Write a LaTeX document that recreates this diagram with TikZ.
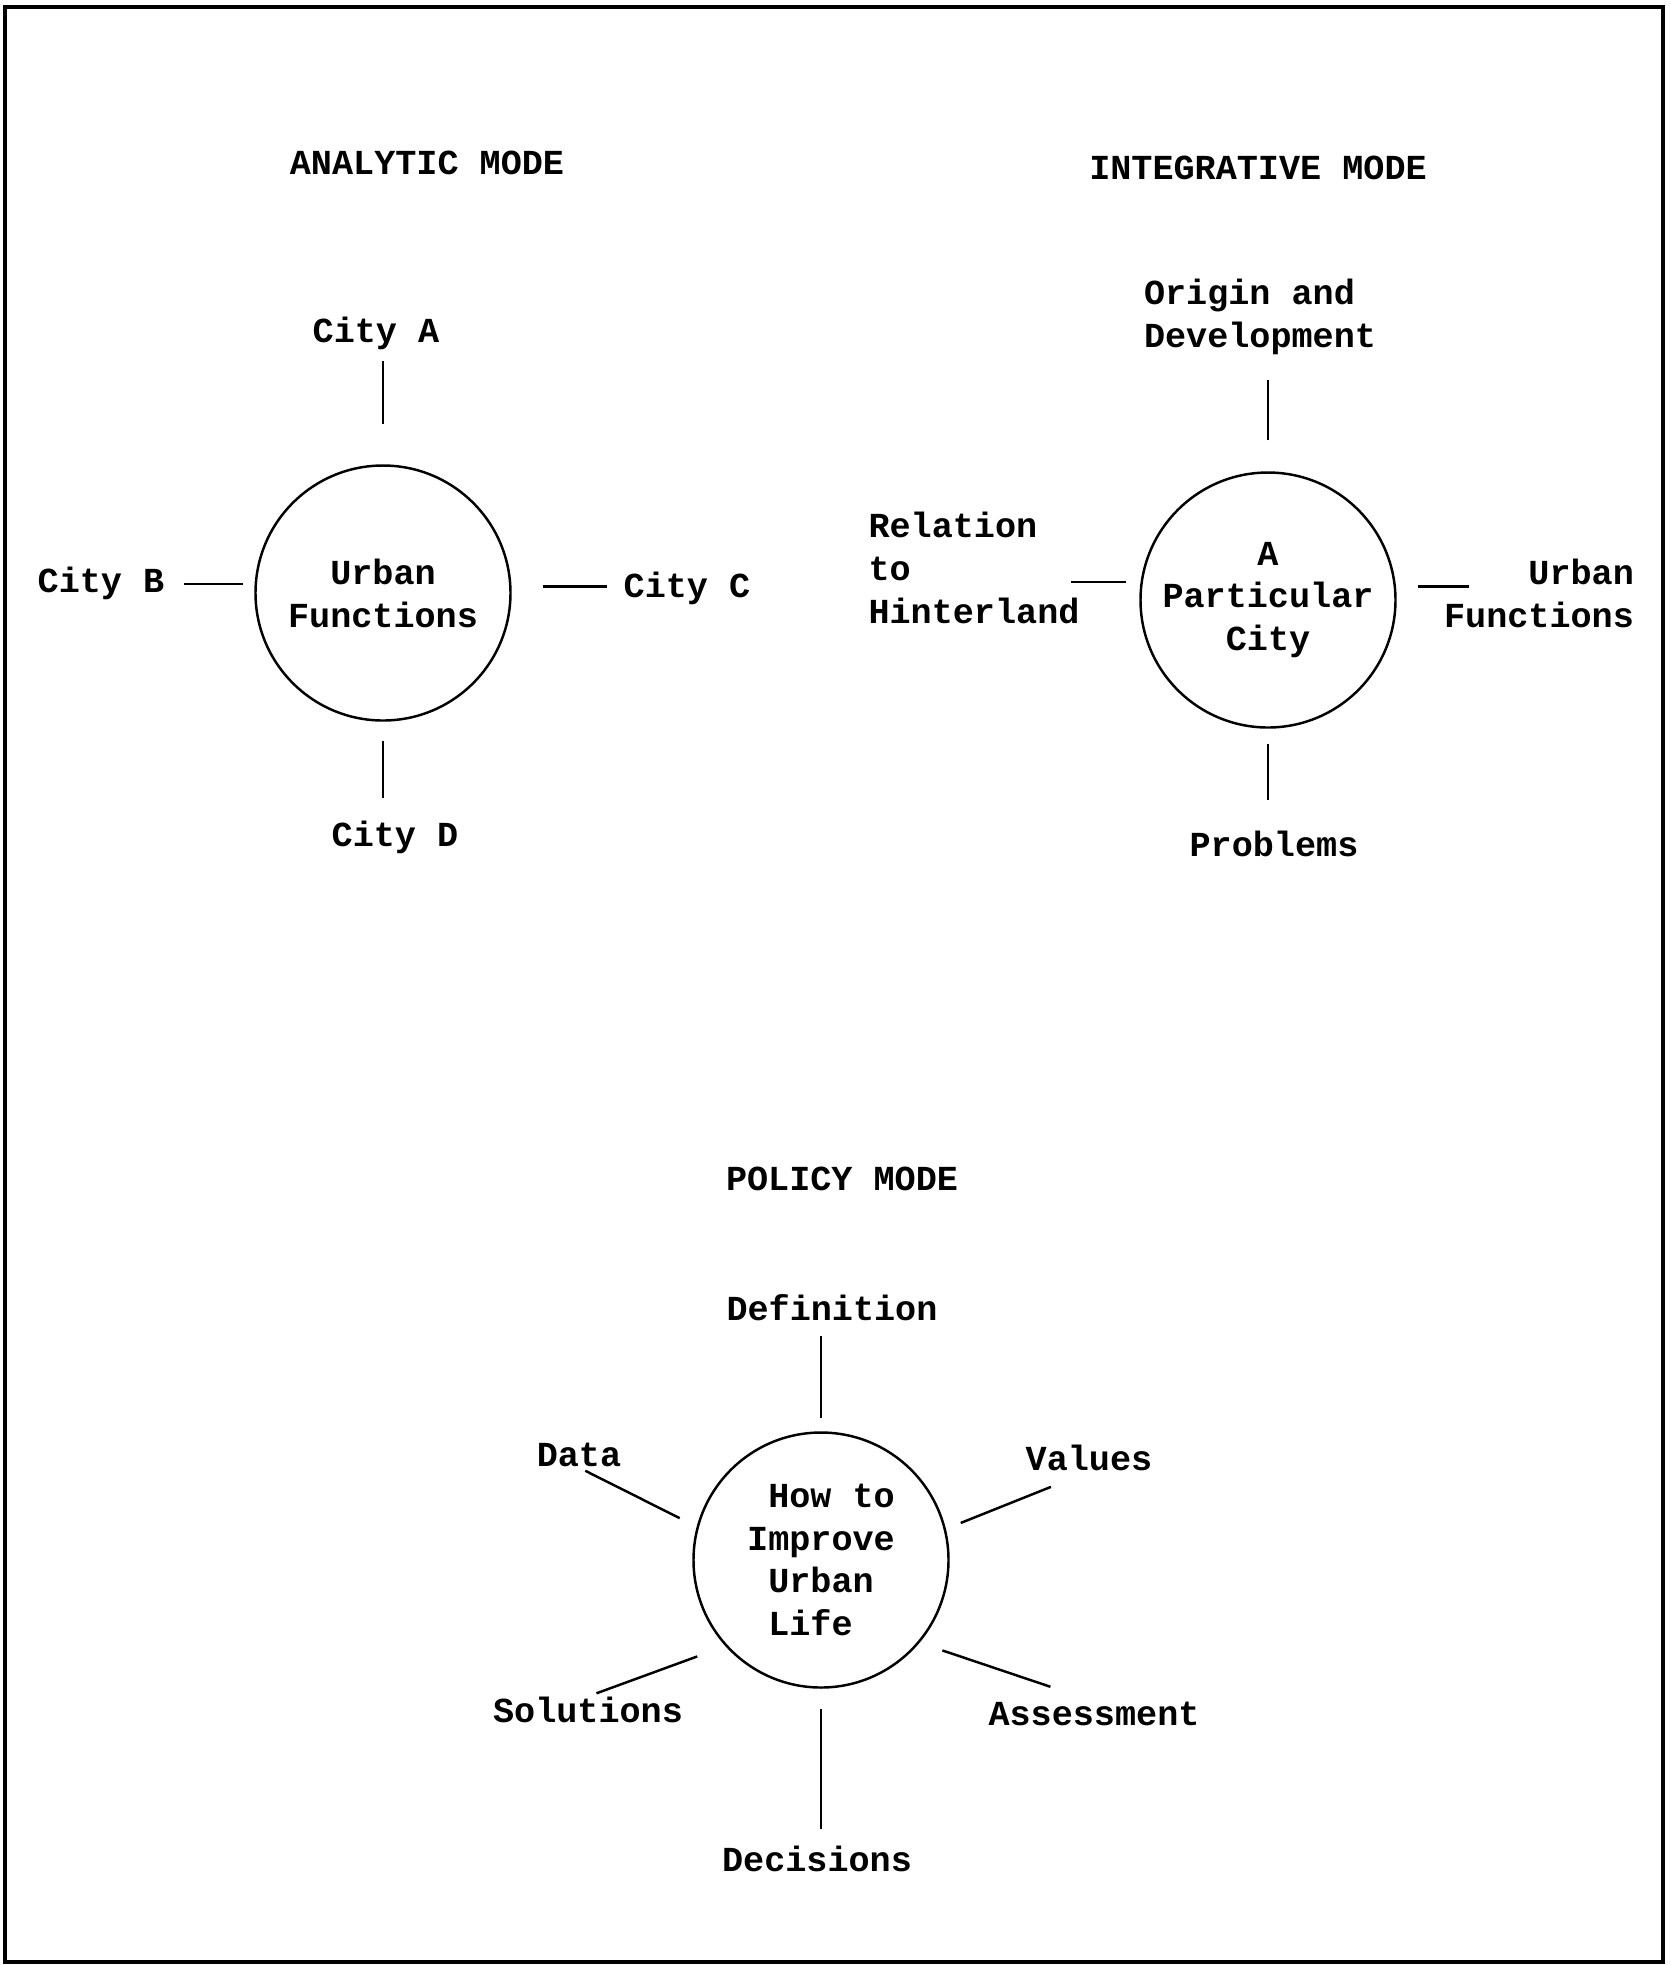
\documentclass[tikz,border=0pt]{standalone}
\usepackage{fontspec}
\setmonofont{Liberation Mono}
\tikzset{
    hub/.style={
        circle, draw=black, line width=0.7pt,
        minimum size=2.55cm, inner sep=0pt,
        font=\ttfamily\bfseries\fontsize{10}{12.2}\selectfont
    },
    lbl/.style={inner sep=0pt, font=\ttfamily\bfseries\fontsize{10}{12.2}\selectfont},
    spoke/.style={draw=black, line width=0.7pt},
    frame/.style={draw=black, line width=1pt}
}

\begin{document}
\begin{tikzpicture}

\useasboundingbox (0,0) rectangle (16.70,-19.65);
\draw[frame] (0.05,-0.07) rectangle (16.63,-19.62);

% Analytic mode
\node[lbl] (tana) at (4.27,-1.63) {ANALYTIC MODE};
\node[hub, align=center] (uf) at (3.83,-5.93) {Urban\\Functions};
\node[lbl] (citya) at (3.76,-3.33) {City A};
\node[lbl] (cityb) at (1.01,-5.83) {City B};
\node[lbl] (cityc) at (6.87,-5.88) {City C};
\node[lbl] (cityd) at (3.95,-8.37) {City D};

\draw[spoke, shorten <=0.40cm, shorten >=0.11cm] (uf.north) -- (uf.north |- citya.south);
\draw[spoke, shorten <=0.12cm, shorten >=0.19cm] (uf.176) -- (uf.176 -| cityb.east);
\draw[spoke, shorten <=0.31cm, shorten >=0.16cm] (uf.3) -- (uf.3 -| cityc.west);
\draw[spoke, shorten <=0.19cm, shorten >=0.22cm] (uf.south) -- (uf.south |- cityd.north);

% Integrative mode
\node[lbl] (tint) at (12.58,-1.68) {INTEGRATIVE MODE};
\node[hub, align=center] (pc) at (12.68,-6.00) {A\\Particular\\City};
\node[lbl, align=left] (origin) at (12.60,-3.17) {Origin and\\Development};
\node[lbl, align=left] (relation) at (9.74,-5.68) {Relation\\to\\Hinterland};
\node[lbl, align=right] (urbfn) at (15.39,-5.93) {Urban\\Functions};
\node[lbl] (problems) at (12.74,-8.44) {Problems};

\draw[spoke, shorten <=0.31cm, shorten >=0.24cm] (pc.north) -- (pc.north |- origin.south);
\draw[spoke, shorten <=0.15cm, shorten >=-0.09cm] (pc.172) -- (pc.172 -| relation.east);
\draw[spoke, shorten <=0.22cm, shorten >=-0.26cm] (pc.6) -- (pc.6 -| urbfn.west);
\draw[spoke, shorten <=0.15cm, shorten >=0.30cm] (pc.south) -- (pc.south |- problems.north);

% Policy mode
\node[lbl] (tpol) at (8.42,-11.79) {POLICY MODE};
\node[hub, align=left] (how) at (8.21,-15.60)
    {\phantom{I}How to\\Improve\\\phantom{I}Urban\\\phantom{I}Life};
\node[lbl] (definition) at (8.32,-13.08) {Definition};
\node[lbl] (data) at (5.79,-14.55) {Data};
\node[lbl] (values) at (10.89,-14.58) {Values};
\node[lbl] (solutions) at (5.88,-17.10) {Solutions};
\node[lbl] (assessment) at (10.94,-17.14) {Assessment};
\node[lbl] (decisions) at (8.17,-18.59) {Decisions};

\draw[spoke, shorten <=0.13cm, shorten >=0.14cm] (how.north) -- (how.north |- definition.south);
\draw[spoke, shorten <=0.19cm, shorten >=0.07cm] (how.165) -- (data.south);
\draw[spoke, shorten <=0.16cm, shorten >=0.41cm] (how.14) -- (values.south);
\draw[spoke, shorten <=0.30cm, shorten >=0.09cm] (how.222) -- (solutions.north);
\draw[spoke, shorten <=0.24cm, shorten >=0.46cm] (how.-40) -- (assessment.north);
\draw[spoke, shorten <=0.20cm, shorten >=0.16cm] (how.south) -- (how.south |- decisions.north);

\end{tikzpicture}
\end{document}
